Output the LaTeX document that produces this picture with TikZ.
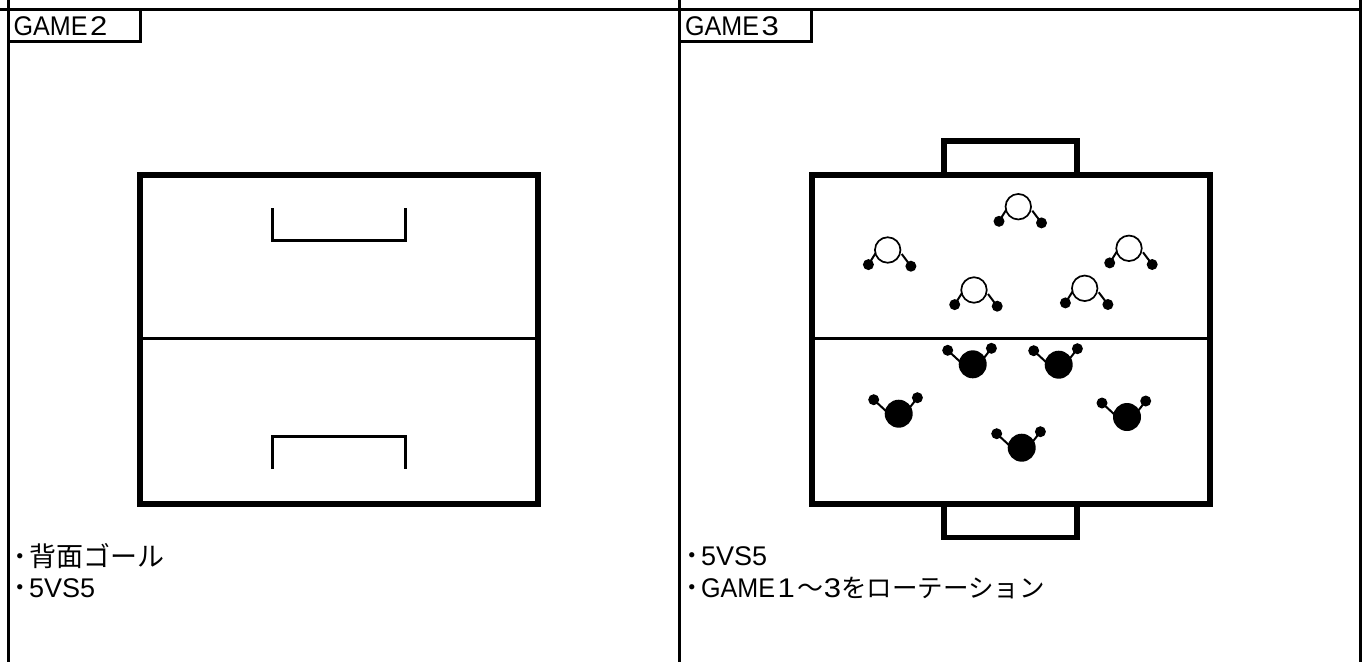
\documentclass[tikz,border=0pt]{standalone}
\usepackage{fontspec}
\setmainfont{Liberation Sans}
\newfontfamily\cjk{Noto Sans CJK JP}[BoldFont={Noto Sans CJK JP Bold}]
\newcommand{\gamew}{\scalebox{0.93}[1]{GAME}\kern2.5pt}
\newcommand{\digw}[1]{\scalebox{1.15}[1]{#1}}
\newcommand{\bul}{\makebox[16pt][l]{\cjk\bfseries ･}}
\tikzset{
 x=1pt,y=-1pt,
 rule/.style={draw=black,line width=3pt,line cap=butt},
 field/.style={draw=black,line width=5.5pt,line join=miter},
 midline/.style={draw=black,line width=3pt},
 goalline/.style={draw=black,line width=3pt,line join=miter},
 label/.style={anchor=west,inner sep=0pt,font=\fontsize{27}{27}\selectfont},
 bodyw/.style={circle,draw=black,line width=1.7pt,fill=white,minimum size=25.5pt,inner sep=0pt},
 bodyb/.style={circle,fill=black,minimum size=28pt,inner sep=0pt},
 hand/.style={circle,fill=black,minimum size=11pt,inner sep=0pt},
 arm/.style={draw=black,line width=2pt},
 whiteplayer/.pic={
  \draw[arm] (-12,3) -- (-19.3,14.6);
  \draw[arm] (14,4) -- (23.2,16.2);
  \node[bodyw] at (0,0) {};
  \node[hand] at (-19.3,14.6) {};
  \node[hand] at (23.2,16.2) {};
 },
 blackplayer/.pic={
  \draw[arm] (-12,-2) -- (-25,-14);
  \draw[arm] (11,-6) -- (18.7,-16);
  \node[bodyb] at (0,0) {};
  \node[hand] at (-25,-14) {};
  \node[hand] at (18.7,-16) {};
 }
}
\begin{document}
\begin{tikzpicture}
\useasboundingbox (0,0) rectangle (1370,662);
% frame
\coordinate (tl) at (0,9.5); \coordinate (tr) at (1360.5,9.5);
\draw[rule] (tl) -- (tr);
\coordinate (la) at (8,0); \coordinate (lb) at (8,662);
\draw[rule] (la) -- (lb);
\coordinate (ma) at (679.7,0); \coordinate (mb) at (679.7,662);
\draw[rule] (ma) -- (mb);
\coordinate (ra) at (1360.5,0); \coordinate (rb) at (1360.5,662);
\draw[rule] (ra) -- (rb);
% tabs
\draw[rule] (8,41) -| (140.5,9.5);
\draw[rule] (679.7,41) -| (811.7,9.5);
\node[label] (t1) at (13.5,26.5) {\gamew\digw{2}};
\node[label] (t2) at (685,26.5) {\gamew\digw{3}};
% left field
\draw[field] (140,175) rectangle (538,504);
\draw[midline] (140,338) -- (538,338);
\draw[goalline] (272.5,208) -- (272.5,240.5) -- (405.5,240.5) -- (405.5,208);
\draw[goalline] (272.5,469) -- (272.5,436.5) -- (405.5,436.5) -- (405.5,469);
% right field
\draw[field] (944,175) -- (944,141) -- (1077,141) -- (1077,175);
\draw[field] (944,504) -- (944,537.5) -- (1077,537.5) -- (1077,504);
\draw[field] (812,175) rectangle (1210,504);
\draw[midline] (812,338) -- (1210,338);
% players
\foreach \x/\y in {1018.3/206.7,887.7/250,1129/248.3,974/290,1084.7/288.3}
  \pic at (\x,\y) {whiteplayer};
\foreach \x/\y in {972.7/364.3,1058.7/364.7,898.7/413.7,1127/417,1021.7/447.7}
  \pic at (\x,\y) {blackplayer};
% notes
\node[label] (n1) at (13,556) {\bul\cjk 背面ゴール};
\node[label] (n2) at (13,588) {\bul 5VS5};
\node[label] (n3) at (685,556) {\bul 5VS5};
\node[label] (n4) at (685,588) {\bul\gamew\digw{1}\kern3pt\cjk\fontsize{26}{26}\selectfont ～\rmfamily\fontsize{27}{27}\selectfont\digw{3}\cjk\fontsize{25.5}{25.5}\selectfont をローテーション};
\end{tikzpicture}
\end{document}
